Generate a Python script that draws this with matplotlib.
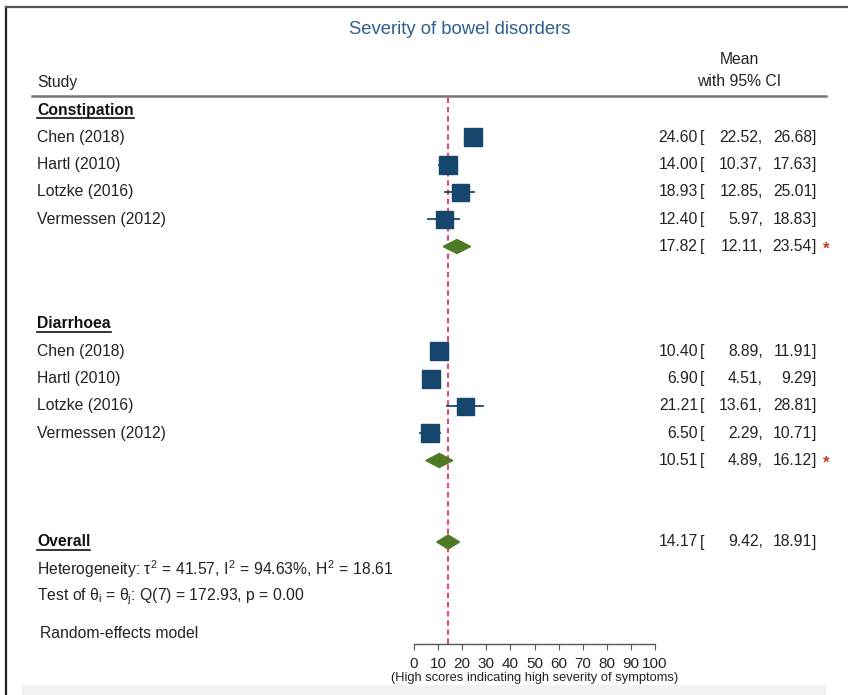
import numpy as np
import matplotlib
matplotlib.use('Agg')
import matplotlib.pyplot as plt
from matplotlib.patches import Polygon, Rectangle

plt.rcParams['font.family'] = ['Liberation Sans', 'DejaVu Sans']
plt.rcParams['mathtext.fontset'] = 'custom'
plt.rcParams['mathtext.rm'] = 'Liberation Sans'
plt.rcParams['mathtext.it'] = 'Liberation Sans'

# Data
studies = ['Chen (2018)', 'Hartl (2010)', 'Lotzke (2016)', 'Vermessen (2012)']
groups = ['Constipation', 'Diarrhoea']
means = [[24.60, 14.00, 18.93, 12.40],
         [10.40, 6.90, 21.21, 6.50]]
lower = [[22.52, 10.37, 12.85, 5.97],
         [8.89, 4.51, 13.61, 2.29]]
upper = [[26.68, 17.63, 25.01, 18.83],
         [11.91, 9.29, 28.81, 10.71]]
box_px = [[18, 18, 17, 17],
          [18, 18, 17, 18]]  # square side, roughly the study weight
pooled_mean = [17.82, 10.51]
pooled_lo = [12.11, 4.89]
pooled_hi = [23.54, 16.12]
overall = [14.17, 9.42, 18.91]
xticks = [0, 10, 20, 30, 40, 50, 60, 70, 80, 90, 100]

W, H = 848, 695
BLUE = '#16466e'
GREEN = '#4e7a26'
FS = 11.3

fig = plt.figure(figsize=(W / 100, H / 100), dpi=100)

# Overlay axes in pixel coordinates for the text columns
tx = fig.add_axes([0, 0, 1, 1])
tx.set_xlim(0, W)
tx.set_ylim(H, 0)
tx.axis('off')

# Forest axes: x is the data scale, y uses pixel rows so it lines up with the overlay
x0, x1, y_top, y_bot = 414, 655, 97, 644
ax = fig.add_axes([x0 / W, 1 - y_bot / H, (x1 - x0) / W, (y_bot - y_top) / H])
ax.set_xlim(0, 100)
ax.set_ylim(y_bot, y_top)
ax.patch.set_alpha(0)
for s in ['top', 'right', 'left']:
    ax.spines[s].set_visible(False)
ax.spines['bottom'].set_color('#555555')
ax.spines['bottom'].set_linewidth(1.0)
ax.set_yticks([])
ax.set_xticks(xticks)
ax.set_xticklabels([str(t) for t in xticks], fontsize=11, color='#222222')
ax.tick_params(axis='x', length=4, color='#555555', pad=5)
ax.set_xlabel('(High scores indicating high severity of symptoms)', fontsize=9.3,
              color='#222222', labelpad=1)

ax.axvline(overall[0], color='#e8457a', lw=1.5, dashes=(2.6, 1.8), zorder=1)

# frame and decoration
tx.plot([6, 6], [7, H], color='#222222', lw=1.6)
tx.plot([6, W], [7, 7], color='#555555', lw=1.6)
tx.add_patch(Rectangle((22, 685), 804, 10, color='#f2f2f2', lw=0))
tx.plot([32, 826], [96, 96], color='#777777', lw=1.8)

tx.text(460, 30, 'Severity of bowel disorders', ha='center', va='center',
        fontsize=13.3, color='#2f5f8c')
tx.text(739, 60, 'Mean', ha='center', va='center', fontsize=FS, color='#222222')
tx.text(739, 82, 'with 95% CI', ha='center', va='center', fontsize=FS, color='#222222')
tx.text(37, 82, 'Study', ha='left', va='center', fontsize=FS, color='#222222')

underlined = []


def ci_text(y, m, lo, hi, star=False):
    tx.text(698, y, '%.2f' % m, ha='right', va='center', fontsize=FS, color='#222222')
    tx.text(700, y, '[', ha='left', va='center', fontsize=FS, color='#222222')
    tx.text(763, y, '%.2f,' % lo, ha='right', va='center', fontsize=FS, color='#222222')
    tx.text(812, y, '%.2f' % hi, ha='right', va='center', fontsize=FS, color='#222222')
    tx.text(812, y, ']', ha='left', va='center', fontsize=FS, color='#222222')
    if star:
        tx.text(826, y + 3, '*', ha='center', va='center', fontsize=12,
                fontweight='bold', color='#c0392b')


def diamond(y, m, lo, hi, h=7):
    ax.add_patch(Polygon([[lo, y], [m, y - h], [hi, y], [m, y + h]], closed=True,
                         color=GREEN, zorder=3, clip_on=False))


group_top = [110, 324]
row_gap = 27.3
for g, name in enumerate(groups):
    y = group_top[g]
    t = tx.text(37, y, name, ha='left', va='center', fontsize=FS,
                fontweight='bold', color='#111111')
    underlined.append((t, y))
    for i, st in enumerate(studies):
        yy = y + row_gap * (i + 1)
        tx.text(37, yy, st, ha='left', va='center', fontsize=FS, color='#222222')
        ax.plot([lower[g][i], upper[g][i]], [yy, yy], color=BLUE, lw=1.3, zorder=2,
                clip_on=False)
        ax.plot(means[g][i], yy, marker='s', ms=box_px[g][i] * 0.72, color=BLUE,
                mec=BLUE, zorder=3, clip_on=False)
        ci_text(yy, means[g][i], lower[g][i], upper[g][i])
    yp = y + row_gap * 5
    diamond(yp, pooled_mean[g], pooled_lo[g], pooled_hi[g])
    ci_text(yp, pooled_mean[g], pooled_lo[g], pooled_hi[g], star=True)

t = tx.text(37, 542, 'Overall', ha='left', va='center', fontsize=FS,
            fontweight='bold', color='#111111')
underlined.append((t, 542))
diamond(542, overall[0], overall[1], overall[2])
ci_text(542, overall[0], overall[1], overall[2])

tx.text(37, 569, r'Heterogeneity: $\tau^{2}$ = 41.57, $I^{2}$ = 94.63%, $H^{2}$ = 18.61',
        ha='left', va='center', fontsize=FS, color='#222222')
tx.text(37, 597, r'Test of $\theta_{i}$ = $\theta_{j}$: Q(7) = 172.93, p = 0.00',
        ha='left', va='center', fontsize=FS, color='#222222')
tx.text(40, 633, 'Random-effects model', ha='left', va='center', fontsize=FS,
        color='#222222')

# underline the bold headers using their rendered extent
fig.canvas.draw()
inv = tx.transData.inverted()
for t, y in underlined:
    bb = t.get_window_extent()
    (xa, _), (xb, _) = inv.transform([[bb.x0, bb.y0], [bb.x1, bb.y0]])
    tx.plot([xa, xb], [y + 8, y + 8], color='#111111', lw=1.2)

fig.savefig('out.png', dpi=100)
